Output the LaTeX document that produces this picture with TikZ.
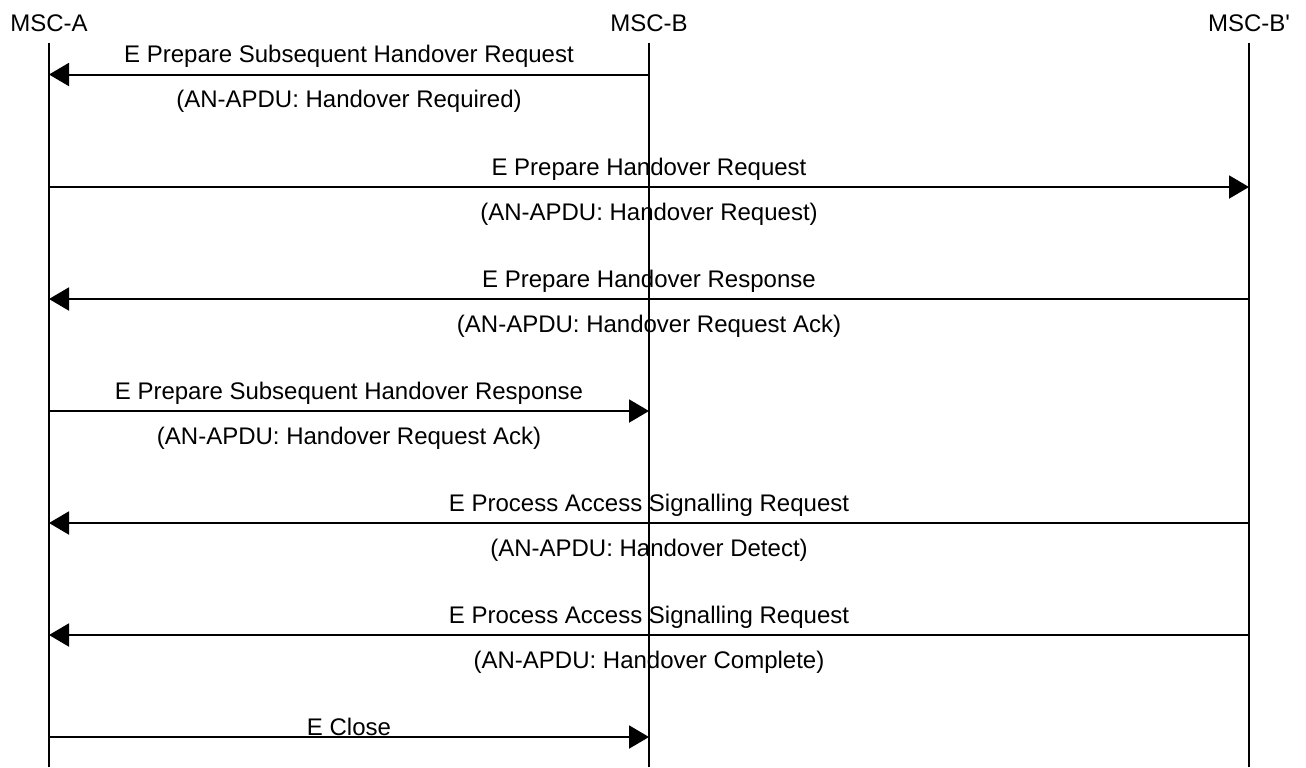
\documentclass[tikz,border=0pt]{standalone}
\usepackage{fontspec}
\setmainfont{Liberation Sans}[Ligatures=TeXOff]
\usetikzlibrary{arrows.meta}

\begin{document}
\begin{tikzpicture}
	\begin{scope}[x=0.5pt, y=-0.5pt]
		\useasboundingbox (0, 0) rectangle (1306, 767);
		\tikzstyle{every node}=[align=center, inner sep=0pt, font=\fontsize{12}{14}\selectfont]
		\tikzstyle{lbl}=[anchor=base]
		\tikzstyle{life}=[line width=1pt]
		\tikzstyle{msg}=[line width=1pt, -{Triangle[length=10pt, width=11.5pt]}]

		\node [lbl] (msca)  at (49, 31)   {MSC-A};
		\node [lbl] (mscb)  at (649, 31)  {MSC-B};
		\node [lbl] (mscbp) at (1249, 31) {MSC-B'};

		\coordinate (topa)  at (49, 43);
		\coordinate (topb)  at (649, 43);
		\coordinate (topbp) at (1249, 43);
		\coordinate (enda)  at (49, 767);
		\coordinate (endb)  at (649, 767);
		\coordinate (endbp) at (1249, 767);

		\draw [life] (topa) to (enda);
		\draw [life] (topb) to (endb);
		\draw [life] (topbp) to (endbp);

		% MSC-B -> MSC-A
		\coordinate (a1) at (49, 74.5);
		\coordinate (b1) at (649, 74.5);
		\node [lbl] (req1)  at (349, 62.5)  {E Prepare Subsequent Handover Request};
		\node [lbl] (req1p) at (349, 107.5) {(AN-APDU: Handover Required)};
		\draw [msg] (b1) to (a1);

		% MSC-A -> MSC-B'
		\coordinate (a2)  at (49, 187);
		\coordinate (bp2) at (1249, 187);
		\node [lbl] (req2)  at (649, 175) {E Prepare Handover Request};
		\node [lbl] (req2p) at (649, 220) {(AN-APDU: Handover Request)};
		\draw [msg] (a2) to (bp2);

		% MSC-B' -> MSC-A
		\coordinate (a3)  at (49, 299);
		\coordinate (bp3) at (1249, 299);
		\node [lbl] (rsp3)  at (649, 287) {E Prepare Handover Response};
		\node [lbl] (rsp3p) at (649, 332) {(AN-APDU: Handover Request Ack)};
		\draw [msg] (bp3) to (a3);

		% MSC-A -> MSC-B
		\coordinate (a4) at (49, 411);
		\coordinate (b4) at (649, 411);
		\node [lbl] (rsp4)  at (349, 399) {E Prepare Subsequent Handover Response};
		\node [lbl] (rsp4p) at (349, 444) {(AN-APDU: Handover Request Ack)};
		\draw [msg] (a4) to (b4);

		% MSC-B' -> MSC-A
		\coordinate (a5)  at (49, 523);
		\coordinate (bp5) at (1249, 523);
		\node [lbl] (pas5)  at (649, 511) {E Process Access Signalling Request};
		\node [lbl] (pas5p) at (649, 556) {(AN-APDU: Handover Detect)};
		\draw [msg] (bp5) to (a5);

		% MSC-B' -> MSC-A
		\coordinate (a6)  at (49, 635);
		\coordinate (bp6) at (1249, 635);
		\node [lbl] (pas6)  at (649, 623) {E Process Access Signalling Request};
		\node [lbl] (pas6p) at (649, 668) {(AN-APDU: Handover Complete)};
		\draw [msg] (bp6) to (a6);

		% MSC-A -> MSC-B
		\coordinate (a7) at (49, 737);
		\coordinate (b7) at (649, 737);
		\node [lbl] (cls7) at (349, 735) {E Close};
		\draw [msg] (a7) to (b7);
	\end{scope}
\end{tikzpicture}
\end{document}
